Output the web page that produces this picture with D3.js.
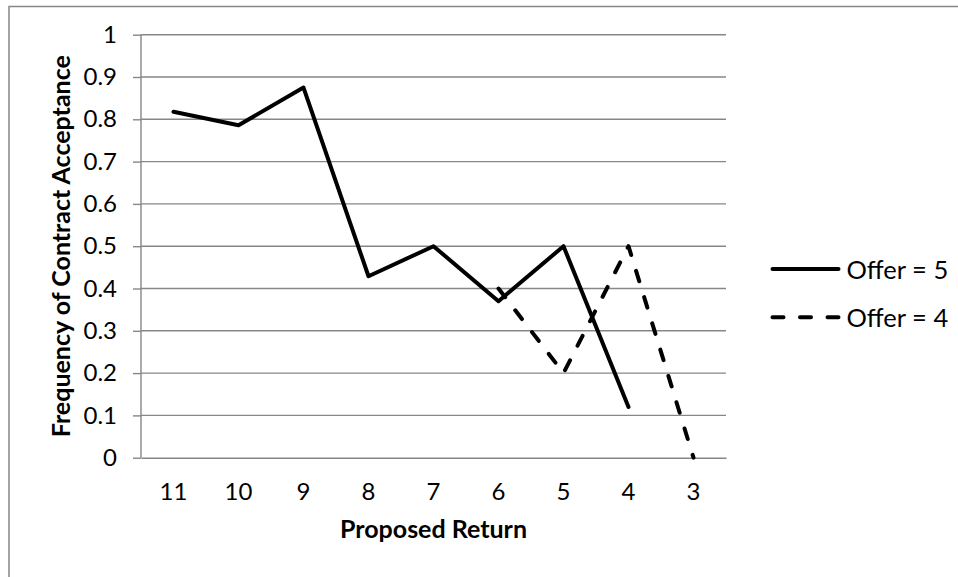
<!DOCTYPE html>
<html>
<head>
<meta charset="utf-8">
<script src="https://cdn.jsdelivr.net/npm/d3@7"></script>
<style>
  html, body { margin: 0; padding: 0; background: #fff; }
  svg { display: block; }
  text { font-family: Lato, "Open Sans", sans-serif; fill: #000; }
</style>
</head>
<body>
<svg id="chart" width="958" height="577"></svg>
<script>
// Proposed return offered to the responder (x categories)
const returns = ["11", "10", "9", "8", "7", "6", "5", "4", "3"];
// Frequency of contract acceptance, one value per proposed return (null = no observation)
const offer5 = [0.818, 0.786, 0.875, 0.429, 0.5, 0.37, 0.5, 0.12, null];
const offer4 = [null, null, null, null, null, 0.4, 0.2, 0.5, 0];
const yTicks = [0, 0.1, 0.2, 0.3, 0.4, 0.5, 0.6, 0.7, 0.8, 0.9, 1];
const seriesNames = ["Offer = 5", "Offer = 4"];

const svg = d3.select("#chart");
const gray = "#878787";
const margin = { left: 141, right: 232, top: 34.7, bottom: 119.3 };
const W = 958, H = 577;

// outer chart-area frame (runs off the right and bottom edges)
svg.append("rect")
  .attr("x", 9).attr("y", 6.5)
  .attr("width", 1200).attr("height", 1200)
  .attr("fill", "none").attr("stroke", gray).attr("stroke-width", 1.5);

const x = d3.scaleBand().domain(returns).range([margin.left, W - margin.right]);
const y = d3.scaleLinear().domain([0, 1]).range([H - margin.bottom, margin.top]);

// horizontal gridlines
svg.append("g").selectAll("line").data(yTicks.filter(d => d > 0)).join("line")
  .attr("x1", margin.left).attr("x2", W - margin.right)
  .attr("y1", d => y(d)).attr("y2", d => y(d))
  .attr("stroke", gray).attr("stroke-width", 1.4);

// y axis
const yAxis = svg.append("g")
  .attr("transform", `translate(${margin.left},0)`)
  .call(d3.axisLeft(y).tickValues(yTicks).tickFormat(d => String(d)).tickSize(8).tickPadding(16));
yAxis.select(".domain").attr("stroke", gray).attr("stroke-width", 1.4)
  .attr("d", `M0,${y(0)}V${y(1)}`);
yAxis.selectAll(".tick line").attr("stroke", gray).attr("stroke-width", 1.4);
yAxis.selectAll(".tick text")
  .style("font-family", "Lato, sans-serif").style("font-size", "24px").attr("fill", "#000");

// x axis
const xAxis = svg.append("g")
  .attr("transform", `translate(0,${y(0)})`)
  .call(d3.axisBottom(x).tickSize(0).tickPadding(0));
xAxis.select(".domain").attr("stroke", gray).attr("stroke-width", 1.4);
xAxis.selectAll(".tick text")
  .attr("y", 42.5).attr("dy", 0)
  .style("font-family", "Lato, sans-serif").style("font-size", "24px").attr("fill", "#000");

// axis titles
svg.append("text")
  .attr("x", (margin.left + W - margin.right) / 2).attr("y", 537.5)
  .attr("text-anchor", "middle")
  .style("font-size", "25px").style("font-weight", "bold")
  .text("Proposed Return");

svg.append("text")
  .attr("transform", `translate(60,${(y(0) + y(1)) / 2}) rotate(-90)`)
  .attr("text-anchor", "middle").attr("dominant-baseline", "central")
  .style("font-size", "25px").style("font-weight", "bold")
  .text("Frequency of Contract Acceptance");

// series lines
const line = d3.line()
  .defined(d => d.v !== null)
  .x(d => x(d.k) + x.bandwidth() / 2)
  .y(d => y(d.v));

const dash = "11,16.5";
const series = [
  { name: seriesNames[0], values: offer5, dash: null },
  { name: seriesNames[1], values: offer4, dash: dash }
];

series.forEach(s => {
  svg.append("path")
    .datum(returns.map((k, i) => ({ k, v: s.values[i] })))
    .attr("d", line)
    .attr("fill", "none").attr("stroke", "#000").attr("stroke-width", 4)
    .attr("stroke-linejoin", "round").attr("stroke-linecap", "round")
    .attr("stroke-dasharray", s.dash);
});

// legend
const legend = svg.append("g");
series.forEach((s, i) => {
  const ly = 269 + i * 48.3;
  legend.append("line")
    .attr("x1", 772.5).attr("x2", 838.5).attr("y1", ly).attr("y2", ly)
    .attr("stroke", "#000").attr("stroke-width", 4)
    .attr("stroke-linecap", "round")
    .attr("stroke-dasharray", s.dash);
  legend.append("text")
    .attr("x", 846.5).attr("y", ly)
    .attr("dominant-baseline", "central")
    .style("font-size", "25.5px")
    .text(s.name);
});
</script>
</body>
</html>
